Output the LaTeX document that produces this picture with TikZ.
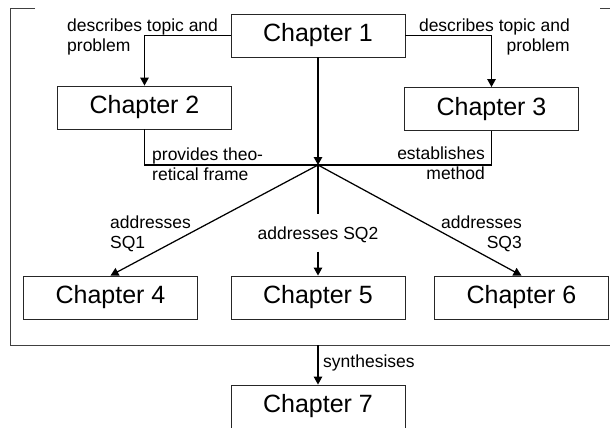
\documentclass[tikz,border=0pt]{standalone}
\usepackage{fontspec}
\setmainfont{Liberation Sans}
\usetikzlibrary{arrows.meta}
\begin{document}
\begin{tikzpicture}[x=1pt,y=-1pt,
  chapbox/.style={draw=black!85, line width=0.9pt, minimum width=174pt, minimum height=43pt,
    inner sep=0pt, font=\fontsize{25}{30}\selectfont},
  lbl/.style={inner sep=0pt, font=\fontsize{17.5}{20}\selectfont},
  conn/.style={line width=1.25pt, black},
  arr/.style={conn, -{Triangle[length=8pt,width=8.5pt]}},
  frame/.style={line width=0.8pt, black!75}]
  \useasboundingbox (0,0) rectangle (610,428);
  \clip (0,0) rectangle (610,428);

  % group frame around chapters 1-6
  \draw[frame] (35,8) -- (10,8) -- (10,345) -- (615,345);
  \draw[frame] (600,8) -- (615,8);

  % chapters
  \node[chapbox] (c1) at (318,35.5) {Chapter 1};
  \node[chapbox] (c2) at (144.5,107.5) {Chapter 2};
  \node[chapbox] (c3) at (491.5,109) {Chapter 3};
  \node[chapbox] (c4) at (110.5,297.5) {Chapter 4};
  \node[chapbox] (c5) at (318,297.5) {Chapter 5};
  \node[chapbox] (c6) at (521.5,297.5) {Chapter 6};
  \node[chapbox] (c7) at (318,406.5) {Chapter 7};

  \coordinate (hub) at (318,165);
  \coordinate (fb) at (318,345);

  % chapter 1 to chapters 2 and 3
  \draw[arr] (c1.west) -| (c2.north);
  \draw[arr] (c1.east) -| (c3.north);
  \node[lbl, anchor=north west, align=left] (l2) at (67,19) {describes topic and\\problem};
  \node[lbl, anchor=north east, align=right] (l3) at (570,19) {describes topic and\\problem};

  % chapters 1, 2, 3 converge
  \draw[arr] (c1.south) -- (hub);
  \draw[conn] (c2.south) |- (hub);
  \draw[conn] (c3.south) |- (hub);
  \node[lbl, anchor=north west, align=left] (lf) at (152,148) {provides theo-\\retical frame};
  \node[lbl, anchor=north east, align=right] (lm) at (485,147) {establishes\\method};

  % research sub-questions
  \draw[arr] (hub) -- (c4.north);
  \draw[arr] (hub) -- (c6.north);
  \node[lbl, text height=13pt, text depth=1pt, inner ysep=11.5pt] (l5) at (318,233) {addresses SQ2};
  \draw[conn] (hub) -- (l5);
  \draw[arr] (l5) -- (c5);
  \node[lbl, anchor=north west, align=left] (l4) at (110,216) {addresses\\SQ1};
  \node[lbl, anchor=north east, align=right] (l6) at (522,216) {addresses\\SQ3};

  % synthesis
  \draw[arr] (fb) -- (c7.north);
  \node[lbl, anchor=north west] (l7) at (323,355) {synthesises};
\end{tikzpicture}
\end{document}
